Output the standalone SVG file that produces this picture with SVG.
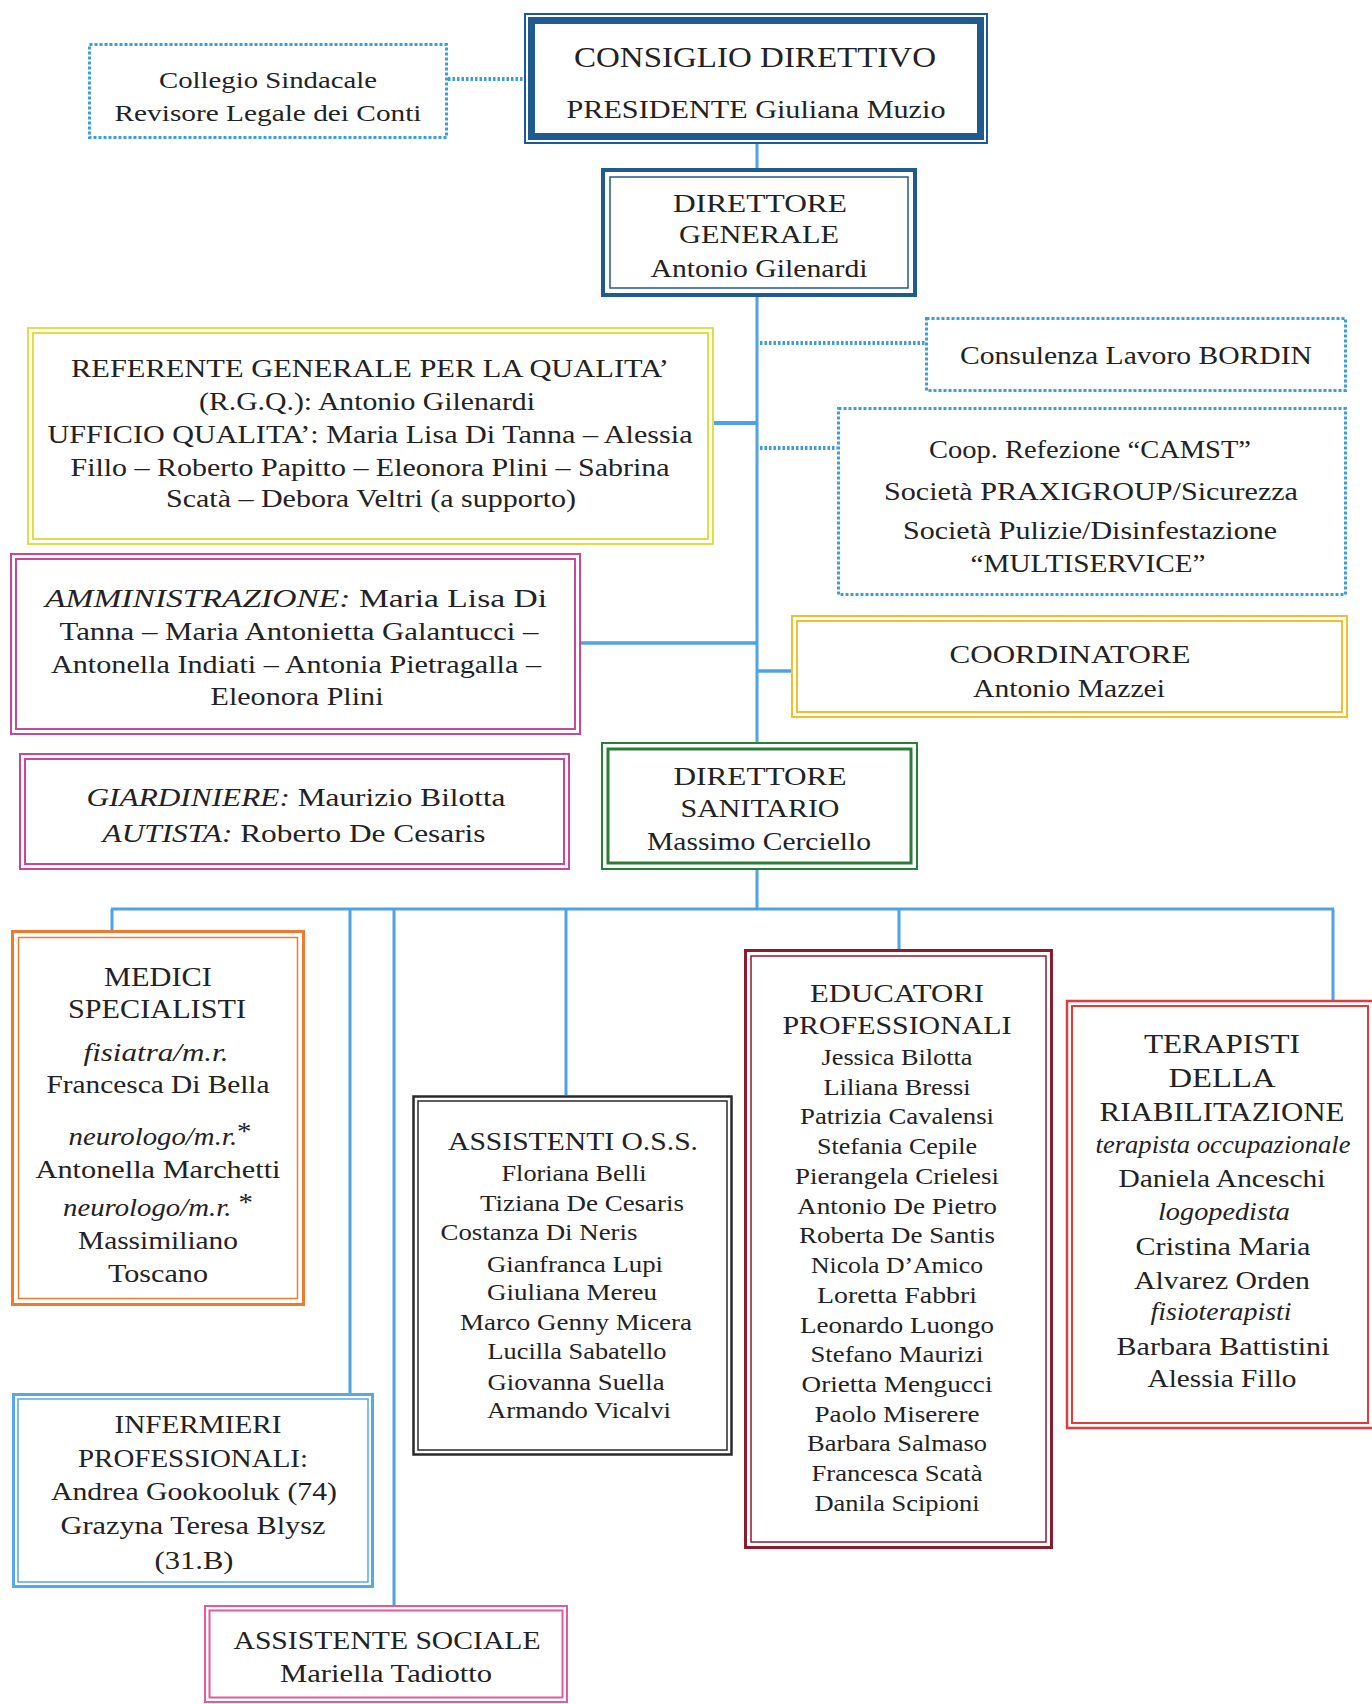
<svg xmlns="http://www.w3.org/2000/svg" width="1372" height="1704" viewBox="0 0 1372 1704">
<style>
.t{font-family:'Liberation Serif','Times New Roman',serif;fill:#222;text-anchor:middle}
.i{font-style:italic}
.conn{stroke:#4ea3e6;stroke-width:3;fill:none}
.dot{stroke:#3d9be0;stroke-width:4;stroke-dasharray:2.5 2;fill:none}
.dbox{stroke:#3d9be0;stroke-width:3;stroke-dasharray:3 2;fill:none}
rect{fill:none}
</style>
<rect x="0" y="0" width="1372" height="1704" fill="#ffffff" style="fill:#fff"/>
<g id="connectors">
<line class="dot" x1="448" y1="79" x2="524" y2="79"/>
<line class="conn" x1="757" y1="144" x2="757" y2="168"/>
<line class="conn" x1="757" y1="297" x2="757" y2="742"/>
<line class="conn" x1="714" y1="423" x2="757" y2="423" style="stroke-width:4"/>
<line class="conn" x1="581" y1="643" x2="757" y2="643" style="stroke-width:3.5"/>
<line class="conn" x1="757" y1="671" x2="791" y2="671" style="stroke-width:3.5"/>
<line class="dot" x1="760" y1="343" x2="925" y2="343"/>
<line class="dot" x1="760" y1="448" x2="837" y2="448"/>
<line class="conn" x1="757" y1="870" x2="757" y2="909"/>
<line class="conn" x1="111" y1="909" x2="1334" y2="909"/>
<line class="conn" x1="112" y1="909" x2="112" y2="930"/>
<line class="conn" x1="350" y1="909" x2="350" y2="1393"/>
<line class="conn" x1="394" y1="909" x2="394" y2="1605"/>
<line class="conn" x1="566" y1="909" x2="566" y2="1095"/>
<line class="conn" x1="899" y1="909" x2="899" y2="949"/>
<line class="conn" x1="1333" y1="909" x2="1333" y2="1000"/>
</g>
<g id="collegio">
<rect class="dbox" x="89.5" y="44.5" width="357" height="93"/>
<text class="t" x="268" y="88" font-size="24" textLength="218" lengthAdjust="spacingAndGlyphs">Collegio Sindacale</text>
<text class="t" x="268" y="121" font-size="24" textLength="307" lengthAdjust="spacingAndGlyphs">Revisore Legale dei Conti</text>
</g>
<g id="consiglio">
<rect x="525" y="14" width="462" height="129" stroke="#1f5b8f" stroke-width="2"/>
<rect x="531.5" y="20.5" width="449" height="116" stroke="#1f5b8f" stroke-width="7"/>
<text class="t" x="755" y="67" font-size="30" textLength="362" lengthAdjust="spacingAndGlyphs">CONSIGLIO DIRETTIVO</text>
<text class="t" x="756" y="118" font-size="26" textLength="379" lengthAdjust="spacingAndGlyphs">PRESIDENTE Giuliana Muzio</text>
</g>
<g id="direttore-generale">
<rect x="603" y="170" width="312" height="125" stroke="#1f5b8f" stroke-width="4"/>
<rect x="610" y="177" width="298" height="111" stroke="#1f5b8f" stroke-width="1.5"/>
<text class="t" x="760" y="212" font-size="26" textLength="174" lengthAdjust="spacingAndGlyphs">DIRETTORE</text>
<text class="t" x="759" y="243" font-size="26" textLength="160" lengthAdjust="spacingAndGlyphs">GENERALE</text>
<text class="t" x="759" y="277" font-size="26" textLength="217" lengthAdjust="spacingAndGlyphs">Antonio Gilenardi</text>
</g>
<g id="referente">
<rect x="28" y="328" width="685" height="216" stroke="#e4dc44" stroke-width="2"/>
<rect x="33" y="333" width="675" height="206" stroke="#e4dc44" stroke-width="2"/>
<text class="t" x="370" y="377" font-size="26" textLength="598" lengthAdjust="spacingAndGlyphs">REFERENTE GENERALE PER LA QUALITA’</text>
<text class="t" x="367" y="410" font-size="26" textLength="336" lengthAdjust="spacingAndGlyphs">(R.G.Q.): Antonio Gilenardi</text>
<text class="t" x="370" y="443" font-size="26" textLength="645" lengthAdjust="spacingAndGlyphs">UFFICIO QUALITA’: Maria Lisa Di Tanna – Alessia</text>
<text class="t" x="370" y="476" font-size="26" textLength="599" lengthAdjust="spacingAndGlyphs">Fillo – Roberto Papitto – Eleonora Plini – Sabrina</text>
<text class="t" x="371" y="507" font-size="26" textLength="410" lengthAdjust="spacingAndGlyphs">Scatà – Debora Veltri (a supporto)</text>
</g>
<g id="consulenza">
<rect class="dbox" x="926.5" y="318.5" width="419" height="72"/>
<text class="t" x="1136" y="364" font-size="25" textLength="352" lengthAdjust="spacingAndGlyphs">Consulenza Lavoro BORDIN</text>
</g>
<g id="servizi">
<rect class="dbox" x="838.5" y="408.5" width="507" height="186"/>
<text class="t" x="1090" y="458" font-size="25" textLength="322" lengthAdjust="spacingAndGlyphs">Coop. Refezione “CAMST”</text>
<text class="t" x="1091" y="500" font-size="25" textLength="414" lengthAdjust="spacingAndGlyphs">Società PRAXIGROUP/Sicurezza</text>
<text class="t" x="1090" y="539" font-size="25" textLength="374" lengthAdjust="spacingAndGlyphs">Società Pulizie/Disinfestazione</text>
<text class="t" x="1088" y="572" font-size="25" textLength="235" lengthAdjust="spacingAndGlyphs">“MULTISERVICE”</text>
</g>
<g id="amministrazione">
<rect x="11" y="554" width="569" height="180" stroke="#c8479b" stroke-width="2"/>
<rect x="16" y="559" width="559" height="170" stroke="#c8479b" stroke-width="2"/>
<text class="t" x="296" y="607" font-size="25" textLength="502" lengthAdjust="spacingAndGlyphs"><tspan class="i">AMMINISTRAZIONE:</tspan> Maria Lisa Di</text>
<text class="t" x="299" y="640" font-size="25" textLength="479" lengthAdjust="spacingAndGlyphs">Tanna – Maria Antonietta Galantucci –</text>
<text class="t" x="296" y="673" font-size="25" textLength="490" lengthAdjust="spacingAndGlyphs">Antonella Indiati – Antonia Pietragalla –</text>
<text class="t" x="297" y="705" font-size="25" textLength="173" lengthAdjust="spacingAndGlyphs">Eleonora Plini</text>
</g>
<g id="coordinatore">
<rect x="792" y="616" width="555" height="101" stroke="#f0c030" stroke-width="2"/>
<rect x="797" y="621" width="545" height="91" stroke="#f0c030" stroke-width="2"/>
<text class="t" x="1070" y="663" font-size="25" textLength="241" lengthAdjust="spacingAndGlyphs">COORDINATORE</text>
<text class="t" x="1069" y="697" font-size="25" textLength="192" lengthAdjust="spacingAndGlyphs">Antonio Mazzei</text>
</g>
<g id="giardiniere">
<rect x="20" y="754" width="549" height="115" stroke="#c8479b" stroke-width="2"/>
<rect x="25" y="759" width="539" height="105" stroke="#c8479b" stroke-width="2"/>
<text class="t" x="296" y="806" font-size="25" textLength="419" lengthAdjust="spacingAndGlyphs"><tspan class="i">GIARDINIERE:</tspan> Maurizio Bilotta</text>
<text class="t" x="294" y="842" font-size="25" textLength="383" lengthAdjust="spacingAndGlyphs"><tspan class="i">AUTISTA:</tspan> Roberto De Cesaris</text>
</g>
<g id="direttore-sanitario">
<rect x="602" y="743" width="315" height="126" stroke="#2a7d35" stroke-width="2"/>
<rect x="608" y="749" width="303" height="114" stroke="#2a7d35" stroke-width="3"/>
<text class="t" x="760" y="785" font-size="26" textLength="173" lengthAdjust="spacingAndGlyphs">DIRETTORE</text>
<text class="t" x="760" y="817" font-size="26" textLength="159" lengthAdjust="spacingAndGlyphs">SANITARIO</text>
<text class="t" x="759" y="850" font-size="26" textLength="224" lengthAdjust="spacingAndGlyphs">Massimo Cerciello</text>
</g>
<g id="medici">
<rect x="12.5" y="931.5" width="291" height="373" stroke="#ee7a2e" stroke-width="3"/>
<rect x="18.5" y="937.5" width="279" height="361" stroke="#ee7a2e" stroke-width="1.5"/>
<text class="t" x="158" y="986" font-size="27" textLength="108" lengthAdjust="spacingAndGlyphs">MEDICI</text>
<text class="t" x="157" y="1018" font-size="27" textLength="178" lengthAdjust="spacingAndGlyphs">SPECIALISTI</text>
<text class="t i" x="156" y="1061" font-size="25" textLength="145" lengthAdjust="spacingAndGlyphs">fisiatra/m.r.</text>
<text class="t" x="158" y="1093" font-size="25" textLength="223" lengthAdjust="spacingAndGlyphs">Francesca Di Bella</text>
<text class="t" x="160" y="1145" font-size="25" textLength="183" lengthAdjust="spacingAndGlyphs"><tspan class="i">neurologo/m.r.</tspan><tspan dy="-5">*</tspan></text>
<text class="t" x="158" y="1178" font-size="25" textLength="245" lengthAdjust="spacingAndGlyphs">Antonella Marchetti</text>
<text class="t" x="158" y="1216" font-size="25" textLength="190" lengthAdjust="spacingAndGlyphs"><tspan class="i">neurologo/m.r. </tspan><tspan dy="-5">*</tspan></text>
<text class="t" x="158" y="1249" font-size="25" textLength="160" lengthAdjust="spacingAndGlyphs">Massimiliano</text>
<text class="t" x="158" y="1282" font-size="25" textLength="100" lengthAdjust="spacingAndGlyphs">Toscano</text>
</g>
<g id="assistenti-oss">
<rect x="413.5" y="1096.5" width="318" height="358" stroke="#2a2a2a" stroke-width="2.5"/>
<rect x="418" y="1101" width="309" height="349" stroke="#2a2a2a" stroke-width="1.5"/>
<text class="t" x="573" y="1150" font-size="26" textLength="250" lengthAdjust="spacingAndGlyphs">ASSISTENTI O.S.S.</text>
<text class="t" x="574" y="1181" font-size="24" textLength="145" lengthAdjust="spacingAndGlyphs">Floriana Belli</text>
<text class="t" x="582" y="1211" font-size="24" textLength="204" lengthAdjust="spacingAndGlyphs">Tiziana De Cesaris</text>
<text class="t" x="539" y="1240" font-size="24" textLength="197" lengthAdjust="spacingAndGlyphs">Costanza Di Neris</text>
<text class="t" x="575" y="1272" font-size="24" textLength="176" lengthAdjust="spacingAndGlyphs">Gianfranca Lupi</text>
<text class="t" x="572" y="1300" font-size="24" textLength="170" lengthAdjust="spacingAndGlyphs">Giuliana Mereu</text>
<text class="t" x="576" y="1330" font-size="24" textLength="232" lengthAdjust="spacingAndGlyphs">Marco Genny Micera</text>
<text class="t" x="577" y="1359" font-size="24" textLength="179" lengthAdjust="spacingAndGlyphs">Lucilla Sabatello</text>
<text class="t" x="576" y="1390" font-size="24" textLength="177" lengthAdjust="spacingAndGlyphs">Giovanna Suella</text>
<text class="t" x="579" y="1418" font-size="24" textLength="184" lengthAdjust="spacingAndGlyphs">Armando Vicalvi</text>
</g>
<g id="educatori">
<rect x="745.5" y="950.5" width="306" height="597" stroke="#8c1c2d" stroke-width="3"/>
<rect x="751" y="956" width="295" height="586" stroke="#8c1c2d" stroke-width="1.5"/>
<text class="t" x="897" y="1002" font-size="26" textLength="174" lengthAdjust="spacingAndGlyphs">EDUCATORI</text>
<text class="t" x="897" y="1034" font-size="26" textLength="229" lengthAdjust="spacingAndGlyphs">PROFESSIONALI</text>
<text class="t" x="897" y="1065" font-size="23" textLength="151" lengthAdjust="spacingAndGlyphs">Jessica Bilotta</text>
<text class="t" x="897" y="1095" font-size="23" textLength="147" lengthAdjust="spacingAndGlyphs">Liliana Bressi</text>
<text class="t" x="897" y="1124" font-size="23" textLength="194" lengthAdjust="spacingAndGlyphs">Patrizia Cavalensi</text>
<text class="t" x="897" y="1154" font-size="23" textLength="160" lengthAdjust="spacingAndGlyphs">Stefania Cepile</text>
<text class="t" x="897" y="1184" font-size="23" textLength="204" lengthAdjust="spacingAndGlyphs">Pierangela Crielesi</text>
<text class="t" x="897" y="1214" font-size="23" textLength="200" lengthAdjust="spacingAndGlyphs">Antonio De Pietro</text>
<text class="t" x="897" y="1243" font-size="23" textLength="196" lengthAdjust="spacingAndGlyphs">Roberta De Santis</text>
<text class="t" x="897" y="1273" font-size="23" textLength="172" lengthAdjust="spacingAndGlyphs">Nicola D’Amico</text>
<text class="t" x="897" y="1303" font-size="23" textLength="160" lengthAdjust="spacingAndGlyphs">Loretta Fabbri</text>
<text class="t" x="897" y="1333" font-size="23" textLength="194" lengthAdjust="spacingAndGlyphs">Leonardo Luongo</text>
<text class="t" x="897" y="1362" font-size="23" textLength="173" lengthAdjust="spacingAndGlyphs">Stefano Maurizi</text>
<text class="t" x="897" y="1392" font-size="23" textLength="191" lengthAdjust="spacingAndGlyphs">Orietta Mengucci</text>
<text class="t" x="897" y="1422" font-size="23" textLength="165" lengthAdjust="spacingAndGlyphs">Paolo Miserere</text>
<text class="t" x="897" y="1451" font-size="23" textLength="180" lengthAdjust="spacingAndGlyphs">Barbara Salmaso</text>
<text class="t" x="897" y="1481" font-size="23" textLength="171" lengthAdjust="spacingAndGlyphs">Francesca Scatà</text>
<text class="t" x="897" y="1511" font-size="23" textLength="165" lengthAdjust="spacingAndGlyphs">Danila Scipioni</text>
</g>
<g id="terapisti">
<rect x="1067" y="1001" width="310" height="427" stroke="#e23b3b" stroke-width="2.5"/>
<rect x="1072" y="1006" width="296" height="417" stroke="#e23b3b" stroke-width="2"/>
<text class="t" x="1222" y="1053" font-size="28" textLength="156" lengthAdjust="spacingAndGlyphs">TERAPISTI</text>
<text class="t" x="1222" y="1087" font-size="28" textLength="107" lengthAdjust="spacingAndGlyphs">DELLA</text>
<text class="t" x="1222" y="1121" font-size="28" textLength="245" lengthAdjust="spacingAndGlyphs">RIABILITAZIONE</text>
<text class="t i" x="1223" y="1153" font-size="26" textLength="255" lengthAdjust="spacingAndGlyphs">terapista occupazionale</text>
<text class="t" x="1222" y="1187" font-size="26" textLength="207" lengthAdjust="spacingAndGlyphs">Daniela Anceschi</text>
<text class="t i" x="1224" y="1220" font-size="26" textLength="132" lengthAdjust="spacingAndGlyphs">logopedista</text>
<text class="t" x="1223" y="1255" font-size="26" textLength="175" lengthAdjust="spacingAndGlyphs">Cristina Maria</text>
<text class="t" x="1222" y="1289" font-size="26" textLength="176" lengthAdjust="spacingAndGlyphs">Alvarez Orden</text>
<text class="t i" x="1221" y="1320" font-size="26" textLength="141" lengthAdjust="spacingAndGlyphs">fisioterapisti</text>
<text class="t" x="1223" y="1355" font-size="26" textLength="213" lengthAdjust="spacingAndGlyphs">Barbara Battistini</text>
<text class="t" x="1222" y="1387" font-size="26" textLength="149" lengthAdjust="spacingAndGlyphs">Alessia Fillo</text>
</g>
<g id="infermieri">
<rect x="13.5" y="1394.5" width="359" height="192" stroke="#58a8e6" stroke-width="3"/>
<rect x="18" y="1399" width="350" height="183" stroke="#58a8e6" stroke-width="1.5"/>
<text class="t" x="198" y="1433" font-size="26" textLength="167" lengthAdjust="spacingAndGlyphs">INFERMIERI</text>
<text class="t" x="193" y="1467" font-size="26" textLength="230" lengthAdjust="spacingAndGlyphs">PROFESSIONALI:</text>
<text class="t" x="194" y="1500" font-size="26" textLength="286" lengthAdjust="spacingAndGlyphs">Andrea Gookooluk (74)</text>
<text class="t" x="193" y="1534" font-size="26" textLength="265" lengthAdjust="spacingAndGlyphs">Grazyna Teresa Blysz</text>
<text class="t" x="194" y="1569" font-size="26" textLength="79" lengthAdjust="spacingAndGlyphs">(31.B)</text>
</g>
<g id="assistente-sociale">
<rect x="205" y="1606" width="362" height="96" stroke="#e35a9c" stroke-width="2"/>
<rect x="209.5" y="1610.5" width="353" height="87" stroke="#e35a9c" stroke-width="2"/>
<text class="t" x="387" y="1649" font-size="26" textLength="307" lengthAdjust="spacingAndGlyphs">ASSISTENTE SOCIALE</text>
<text class="t" x="386" y="1682" font-size="26" textLength="212" lengthAdjust="spacingAndGlyphs">Mariella Tadiotto</text>
</g>
</svg>
